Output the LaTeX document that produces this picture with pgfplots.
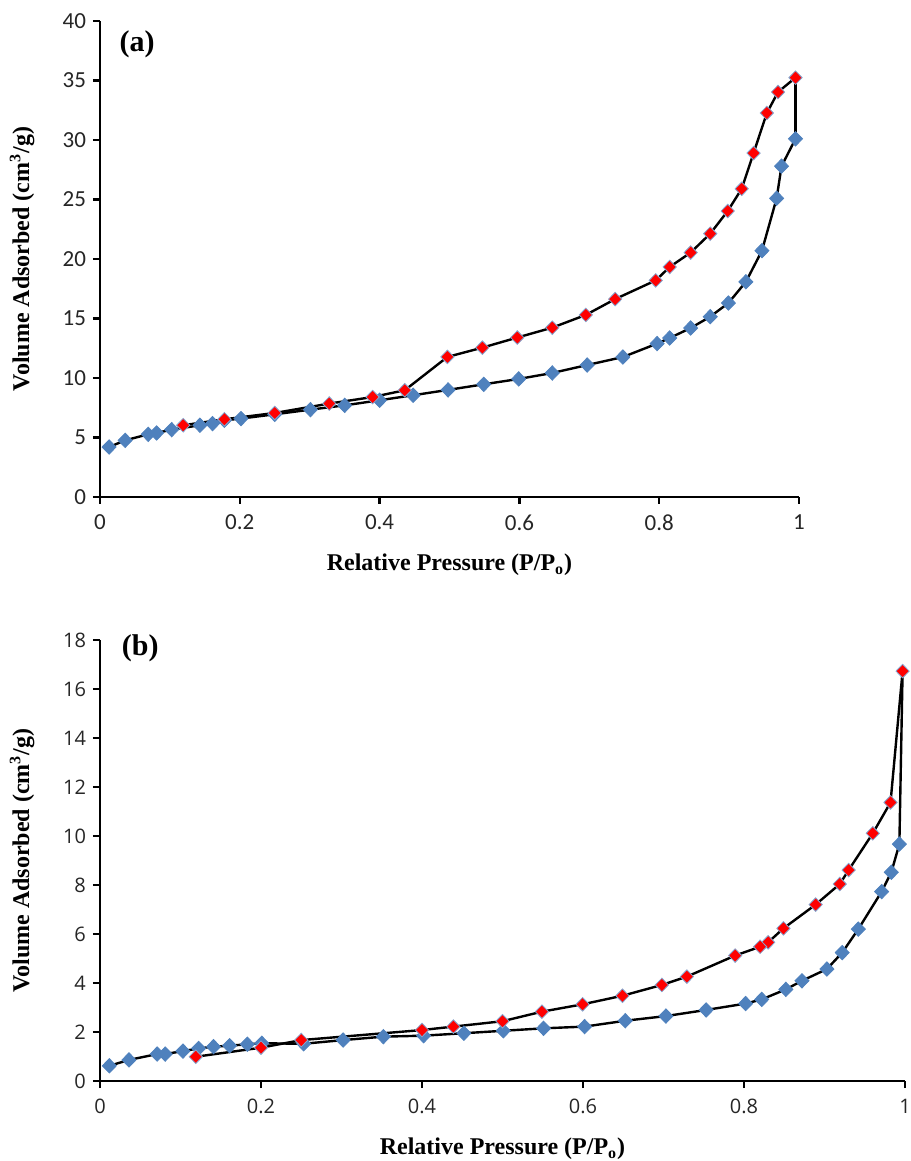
\documentclass[border=0pt]{standalone}
\usepackage{fontspec}
\setmainfont{Liberation Serif}
\newfontfamily\carlito{Carlito}
\newfontfamily\opensans{Open Sans}
\usepackage{pgfplots}
\pgfplotsset{compat=1.18}

\definecolor{ads}{RGB}{79,129,189}
\definecolor{des}{RGB}{255,0,0}

\pgfplotsset{
  iso/.style={
    scale only axis,
    axis lines*=left,
    axis line style={line width=1.2pt},
    tick align=outside,
    major tick length=3.5pt,
    tick style={line width=1.2pt, black},
    xmin=0, xmax=1, ymin=0,
    xtick={0,0.2,0.4,0.6,0.8,1},
    /pgf/number format/assume math mode=true,
    clip=false,
    label style={font=\bfseries\fontsize{12}{14}\selectfont},
    xlabel style={at={(axis description cs:0.5,0)}, anchor=center, yshift=-34pt},
    ylabel style={at={(axis description cs:0,0.5)}, anchor=center, rotate=0, yshift=39pt},
    xlabel={Relative Pressure (P/P\textsubscript{o})},
    ylabel={Volume Adsorbed (cm\textsuperscript{3}/g)},
  },
  adsline/.style={black, line width=1.2pt, mark=diamond*, mark size=3.6pt,
    mark options={fill=ads, draw=ads, line width=0.4pt, xscale=1.3}},
  desline/.style={black, line width=1.2pt, mark=diamond*, mark size=3.4pt,
    mark options={fill=des, draw=ads!70, line width=0.4pt, xscale=1.3}},
}

\begin{document}
\begin{tikzpicture}
\useasboundingbox (0,0) rectangle (455pt,580.5pt);

% (a)
\begin{axis}[iso,
  at={(50pt,332pt)}, anchor=south west,
  width=349.5pt, height=238pt,
  ymax=40, ytick={0,5,...,40},
  ticklabel style={font=\carlito\fontsize{11.5}{12}\selectfont, text=black!85},
  xticklabel style={yshift=-2pt},
]
\addplot[adsline] coordinates {
  (0.013,4.2) (0.036,4.76) (0.069,5.27) (0.081,5.38) (0.1025,5.66)
  (0.143,6.03) (0.161,6.17) (0.178,6.45) (0.2017,6.59) (0.25,6.95)
  (0.301,7.34) (0.35,7.7) (0.40,8.13) (0.448,8.55) (0.498,9.0)
  (0.549,9.47) (0.599,9.92) (0.647,10.42) (0.697,11.09) (0.748,11.76)
  (0.797,12.89) (0.815,13.36) (0.845,14.2) (0.873,15.15) (0.899,16.3)
  (0.924,18.08) (0.947,20.7) (0.968,25.1) (0.975,27.8) (0.995,30.1)
};
\addplot[black, line width=1.2pt] coordinates {(0.995,30.1) (0.995,35.24)};
\addplot[desline] coordinates {
  (0.995,35.24) (0.970,34.03) (0.954,32.27) (0.935,28.9) (0.918,25.9)
  (0.898,24.03) (0.873,22.13) (0.845,20.54) (0.815,19.33) (0.795,18.2)
  (0.737,16.63) (0.695,15.3) (0.647,14.23) (0.597,13.4) (0.547,12.55)
  (0.497,11.77) (0.436,8.97) (0.39,8.4) (0.328,7.85) (0.25,7.06)
  (0.178,6.53) (0.119,6.03)
};
\node[font=\bfseries\fontsize{15}{16}\selectfont] at (rel axis cs:0.053,0.952) {(a)};
\end{axis}

% (b)
\begin{axis}[iso,
  at={(50pt,40pt)}, anchor=south west,
  width=402.5pt, height=220.5pt,
  ymax=18, ytick={0,2,...,18},
  ticklabel style={font=\opensans\fontsize{10}{12}\selectfont, text=black!85},
  xticklabel style={yshift=-2pt},
]
\addplot[adsline] coordinates {
  (0.0116,0.62) (0.036,0.86) (0.071,1.10) (0.081,1.10) (0.103,1.22)
  (0.1225,1.33) (0.141,1.40) (0.161,1.44) (0.183,1.50) (0.201,1.54)
  (0.253,1.52) (0.302,1.67) (0.352,1.81) (0.402,1.85) (0.452,1.95)
  (0.501,2.05) (0.551,2.15) (0.602,2.22) (0.6525,2.46) (0.703,2.65)
  (0.753,2.90) (0.802,3.16) (0.822,3.33) (0.852,3.74) (0.872,4.09)
  (0.903,4.57) (0.922,5.24) (0.942,6.20) (0.971,7.73) (0.983,8.52)
  (0.993,9.67)
};
\addplot[black, line width=1.2pt] coordinates {(0.993,9.67) (0.997,16.73)};
\addplot[desline] coordinates {
  (0.997,16.73) (0.982,11.37) (0.960,10.11) (0.930,8.61) (0.919,8.04)
  (0.889,7.2) (0.849,6.23) (0.830,5.66) (0.820,5.48) (0.789,5.12)
  (0.729,4.26) (0.698,3.92) (0.649,3.48) (0.5995,3.13) (0.549,2.83)
  (0.5,2.44) (0.439,2.22) (0.4,2.08) (0.25,1.67) (0.2,1.36) (0.119,0.99)
};
\node[font=\bfseries\fontsize{15}{16}\selectfont] at (rel axis cs:0.05,0.982) {(b)};
\end{axis}
\end{tikzpicture}
\end{document}
